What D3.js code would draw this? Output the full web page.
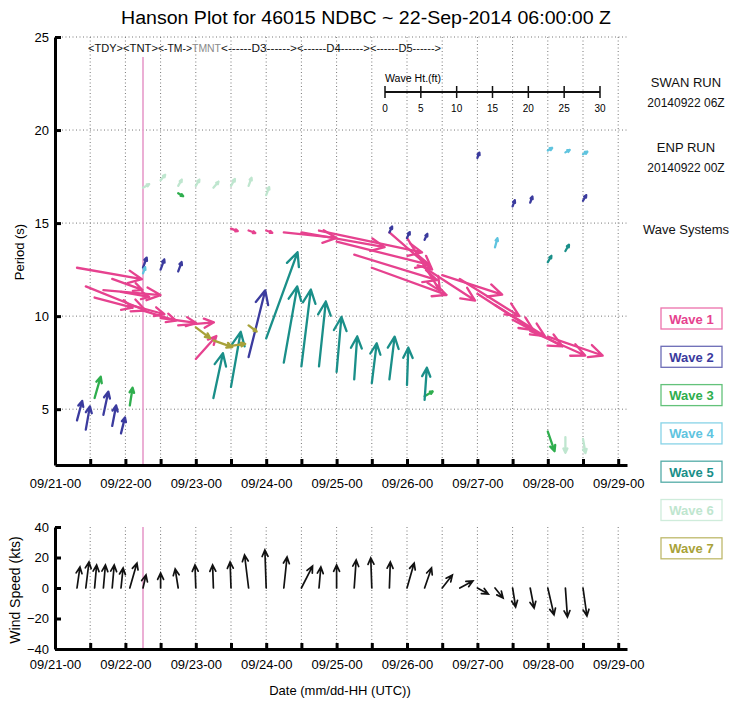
<!DOCTYPE html>
<html>
<head>
<meta charset="utf-8">
<script src="https://cdn.jsdelivr.net/npm/d3@7"></script>
<style>
  body { margin: 0; background: #fff; }
  svg text { font-family: "Liberation Sans", Arial, sans-serif; }
</style>
</head>
<body>
<svg id="chart" width="730" height="702"></svg>
<script>
// hours are counted from 09/21-00Z
// wave rows: [hour, period at tail (s), height (ft), direction toward (deg, 0 = up)]
const WAVE_NAMES = ["Wave 1", "Wave 2", "Wave 3", "Wave 4", "Wave 5", "Wave 6", "Wave 7"];
const WAVE_COLORS = ["#e6428f", "#3b3b9e", "#2fae4e", "#5fc4df", "#1a8f89", "#bfe6cf", "#a8a23a"];

const WAVE1 = [
  [7.5, 12.6, 9.2, 100], [10.5, 11.6, 9.0, 112], [13.5, 11.0, 5.5, 105], [16.5, 11.4, 8.0, 95],
  [19.5, 12.0, 4.5, 110], [22.5, 11.3, 4.0, 100], [25.5, 10.6, 5.0, 105], [30, 10.3, 4.8, 107],
  [36, 9.9, 5.0, 98], [42, 9.5, 5.0, 85], [48, 7.7, 4.3, 42],
  [60, 14.7, 1.0, 110], [66, 14.6, 1.0, 110], [72, 14.6, 0.9, 110],
  [78, 14.5, 7.4, 96], [84, 14.5, 11.8, 100], [90, 14.6, 14.7, 102], [96, 14.0, 13.4, 104],
  [102, 13.3, 12.1, 107], [108, 12.6, 11.1, 110], [114, 14.5, 7.9, 131], [120, 14.2, 8.7, 148],
  [126, 12.6, 8.4, 123], [132, 12.2, 8.8, 108], [138, 12.0, 9.8, 122], [144, 11.2, 9.3, 123],
  [150, 10.6, 8.2, 122], [156, 9.8, 7.9, 118], [162, 9.2, 8.4, 114], [168, 8.9, 8.1, 109]
];
const WAVE2 = [
  [7.5, 4.4, 2.8, 15], [10.5, 3.9, 3.3, 10], [16.5, 4.7, 3.3, 12], [19.5, 4.1, 2.9, 11],
  [22.5, 3.7, 2.3, 14], [30, 12.6, 1.5, 20], [36, 12.5, 1.5, 20], [42, 12.4, 1.4, 20],
  [66, 7.8, 9.6, 14], [114, 14.5, 0.9, 25], [120, 14.2, 0.9, 25], [126, 14.1, 0.9, 25],
  [144, 18.5, 0.8, 20], [156, 15.9, 0.9, 20], [162, 16.1, 0.9, 20], [180, 16.2, 0.9, 30]
];
const WAVE3 = [
  [13.5, 5.6, 3.1, 16], [25.5, 5.2, 2.5, 9], [42, 16.6, 0.8, 120], [126, 5.7, 1.3, 60],
  [168, 3.8, 2.9, 161]
];
const WAVE4 = [
  [30, 12.3, 0.9, 20], [150, 13.7, 1.3, 15], [168, 18.9, 0.7, 60], [174, 18.8, 0.7, 60],
  [180, 18.7, 0.7, 60]
];
const WAVE5 = [
  [54, 5.6, 6.4, 12], [60, 6.2, 7.8, 10], [72, 8.8, 12.8, 20], [78, 7.5, 10.8, 10],
  [84, 7.3, 10.8, 7], [90, 7.3, 9.1, 6], [96, 7.0, 7.7, 5], [102, 6.6, 6.0, 4],
  [108, 6.4, 5.6, 7], [114, 6.6, 6.0, 7], [120, 6.3, 5.2, 2], [126, 5.5, 4.5, 4],
  [168, 12.9, 1.0, 30], [174, 13.5, 1.0, 30]
];
const WAVE6 = [
  [30, 16.9, 1.0, 60], [36, 17.3, 1.0, 40], [42, 17.0, 1.0, 30], [48, 17.0, 1.0, 30],
  [54, 16.9, 1.1, 40], [60, 17.0, 1.1, 30], [66, 17.0, 1.2, 20], [72, 16.5, 1.2, 20],
  [174, 3.5, 2.2, 180], [180, 3.4, 2.0, 170]
];
const WAVE7 = [
  [48, 9.4, 2.5, 127], [54, 8.7, 2.8, 110], [60, 8.4, 2.0, 82], [66, 9.5, 1.4, 127]
];
const WAVES = [WAVE1, WAVE2, WAVE3, WAVE4, WAVE5, WAVE6, WAVE7];

// wind rows: [hour, speed (kts), direction toward (deg)]
const WIND = [
  [7.5, 13.9, 8], [10.5, 17.2, 7], [13.5, 15.1, 5], [16.5, 15.1, 5], [19.5, 15.1, 5],
  [22.5, 13.2, 6], [25.5, 17.0, 16], [30, 8.7, 13], [36, 9.8, 0], [42, 12.6, 351],
  [48, 15.1, 358], [54, 15.1, 358], [60, 17.1, 358], [66, 21.8, 353], [72, 24.9, 358],
  [78, 20.4, 6], [84, 16.1, 27], [90, 13.8, 5], [96, 15.1, 0], [102, 18.4, 4],
  [108, 19.7, 358], [114, 17.1, 2], [120, 17.0, 16], [126, 13.9, 19], [132, 10.8, 38],
  [138, 9.7, 62], [144, 8.2, 119], [150, 8.4, 141], [156, 12.6, 171], [162, 13.4, 169],
  [168, 18.1, 167], [174, 19.1, 176], [180, 18.5, 172]
];

const DAY_LABELS = ["09/21-00", "09/22-00", "09/23-00", "09/24-00", "09/25-00",
                    "09/26-00", "09/27-00", "09/28-00", "09/29-00"];
const PERIOD_TICKS = [5, 10, 15, 20, 25];
const WIND_TICKS = [-40, -20, 0, 20, 40];
const HT_TICKS = [0, 5, 10, 15, 20, 25, 30];
const RUN_HOUR = 30;
const FCST_LABELS = ["<TDY>", "<TNT>", "<-TM->", "TMNT", "<------D3------>", "<------D4------>", "<------D5------>"];
const FCST_WIDTHS = [35, 35, 34, 29, 76, 73, 71];

function drawChart() {
  const svg = d3.select("#chart");
  const hours12 = d3.range(0, 193, 12);

  const x = d3.scaleLinear().domain([0, 195]).range([55, 627]);
  const yP = d3.scaleLinear().domain([2, 25]).range([465, 37]);
  const yW = d3.scaleLinear().domain([-40, 40]).range([649, 527]);
  const ht = d3.scaleLinear().domain([0, 30]).range([385, 600]);

  function arrowPath(x0, y0, x1, y1, head) {
    const a = Math.atan2(y1 - y0, x1 - x0), b = 25 * Math.PI / 180;
    return "M" + x0 + "," + y0 + "L" + x1 + "," + y1 +
      "M" + (x1 - head * Math.cos(a - b)) + "," + (y1 - head * Math.sin(a - b)) +
      "L" + x1 + "," + y1 +
      "L" + (x1 - head * Math.cos(a + b)) + "," + (y1 - head * Math.sin(a + b));
  }

  // title
  svg.append("text")
    .attr("x", 366).attr("y", 24)
    .attr("text-anchor", "middle")
    .attr("font-size", 18)
    .attr("textLength", 490).attr("lengthAdjust", "spacingAndGlyphs")
    .text("Hanson Plot for 46015 NDBC ~ 22-Sep-2014 06:00:00 Z");

  // dotted grid, top panel
  const grid = svg.append("g")
    .attr("stroke", "#777").attr("stroke-width", 1).attr("stroke-dasharray", "1,2.5");
  grid.selectAll(".vt").data(hours12.slice(1)).enter().append("line")
    .attr("x1", d => x(d)).attr("x2", d => x(d))
    .attr("y1", yP(25)).attr("y2", yP(2));
  grid.selectAll(".hz").data(PERIOD_TICKS).enter().append("line")
    .attr("x1", x(0)).attr("x2", x(195))
    .attr("y1", d => yP(d)).attr("y2", d => yP(d));
  // dotted grid, wind panel
  grid.selectAll(".vb").data(hours12.slice(1)).enter().append("line")
    .attr("x1", d => x(d)).attr("x2", d => x(d))
    .attr("y1", yW(40)).attr("y2", yW(-40));

  // run time line
  svg.append("line")
    .attr("x1", x(RUN_HOUR)).attr("x2", x(RUN_HOUR))
    .attr("y1", 57).attr("y2", yP(2))
    .attr("stroke", "#e79bcb").attr("stroke-width", 1.6);
  svg.append("line")
    .attr("x1", x(RUN_HOUR)).attr("x2", x(RUN_HOUR))
    .attr("y1", yW(40)).attr("y2", yW(-40))
    .attr("stroke", "#e79bcb").attr("stroke-width", 1.6);

  // forecast period labels
  let lx = 88;
  FCST_LABELS.forEach(function(lab, i) {
    svg.append("text")
      .attr("x", lx).attr("y", 52)
      .attr("font-size", 11)
      .attr("fill", lab == "TMNT" ? "#8a8a8a" : "#111")
      .attr("textLength", FCST_WIDTHS[i]).attr("lengthAdjust", "spacingAndGlyphs")
      .text(lab);
    lx += FCST_WIDTHS[i];
  });

  // wave height scale
  svg.append("text").attr("x", 385).attr("y", 82).attr("font-size", 10)
    .attr("textLength", 56).attr("lengthAdjust", "spacingAndGlyphs")
    .text("Wave Ht.(ft)");
  svg.append("line").attr("x1", ht(0)).attr("x2", ht(30)).attr("y1", 92).attr("y2", 92)
    .attr("stroke", "#111").attr("stroke-width", 1.8);
  svg.selectAll(".htick").data(HT_TICKS).enter().append("line")
    .attr("x1", d => ht(d)).attr("x2", d => ht(d)).attr("y1", 86).attr("y2", 98)
    .attr("stroke", "#111").attr("stroke-width", 1.5);
  svg.selectAll(".hlab").data(HT_TICKS).enter().append("text")
    .attr("x", d => ht(d)).attr("y", 112).attr("text-anchor", "middle")
    .attr("font-size", 10).text(d => d);

  // wave arrows
  const unit = ht(1) - ht(0);
  WAVES.forEach(function(rows, i) {
    svg.append("g")
      .attr("fill", "none").attr("stroke", WAVE_COLORS[i])
      .attr("stroke-width", 2.3).attr("stroke-linecap", "round").attr("stroke-linejoin", "round")
      .selectAll("path").data(rows).enter().append("path")
      .attr("d", function(d) {
        const x0 = x(d[0]), y0 = yP(d[1]), L = d[2] * unit, r = d[3] * Math.PI / 180;
        const head = Math.max(2.5, Math.min(15, L * 0.3));
        return arrowPath(x0, y0, x0 + L * Math.sin(r), y0 - L * Math.cos(r), head);
      });
  });

  // wind arrows
  const k = yW(0) - yW(1);
  svg.append("g")
    .attr("fill", "none").attr("stroke", "#111").attr("stroke-width", 1.7)
    .attr("stroke-linecap", "round")
    .selectAll("path").data(WIND).enter().append("path")
    .attr("d", function(d) {
      const x0 = x(d[0]), y0 = yW(0), r = d[2] * Math.PI / 180;
      return arrowPath(x0, y0, x0 + d[1] * k * Math.sin(r), y0 - d[1] * k * Math.cos(r), 7);
    });

  // axes
  function styleAxis(g) {
    g.select(".domain").attr("stroke", "#000").attr("stroke-width", 3);
    g.selectAll(".tick line").attr("stroke", "#000").attr("stroke-width", 3);
    g.selectAll(".tick text").attr("font-size", 13).attr("fill", "#000")
      .attr("font-family", "'Liberation Sans', Arial, sans-serif");
  }
  const dayFmt = d => (d % 24 == 0 ? DAY_LABELS[d / 24] : "");

  svg.append("g").attr("transform", "translate(0," + yP(2) + ")")
    .call(d3.axisBottom(x).tickValues(hours12).tickFormat(dayFmt)
      .tickSize(-6).tickSizeOuter(0).tickPadding(14))
    .call(styleAxis);
  svg.append("g").attr("transform", "translate(" + x(0) + ",0)")
    .call(d3.axisLeft(yP).tickValues(PERIOD_TICKS)
      .tickSize(-6).tickSizeOuter(0).tickPadding(6))
    .call(styleAxis);

  svg.append("g").attr("transform", "translate(0," + yW(-40) + ")")
    .call(d3.axisBottom(x).tickValues(hours12).tickFormat(dayFmt)
      .tickSize(-6).tickSizeOuter(0).tickPadding(11))
    .call(styleAxis);
  svg.append("g").attr("transform", "translate(" + x(0) + ",0)")
    .call(d3.axisLeft(yW).tickValues(WIND_TICKS)
      .tickSize(-6).tickSizeOuter(0).tickPadding(6))
    .call(styleAxis);

  // axis titles
  svg.append("text").attr("transform", "translate(24,252) rotate(-90)")
    .attr("text-anchor", "middle").attr("font-size", 13).text("Period (s)");
  svg.append("text").attr("transform", "translate(20,590) rotate(-90)")
    .attr("text-anchor", "middle").attr("font-size", 14).text("Wind Speed (kts)");
  svg.append("text").attr("x", 340).attr("y", 695)
    .attr("text-anchor", "middle").attr("font-size", 13).text("Date (mm/dd-HH (UTC))");

  // right side notes
  const notes = [["SWAN RUN", 87, 13], ["20140922 06Z", 107, 12], ["ENP RUN", 152, 13],
                 ["20140922 00Z", 172, 12], ["Wave Systems", 234, 13]];
  notes.forEach(function(n) {
    svg.append("text").attr("x", 686).attr("y", n[1]).attr("text-anchor", "middle")
      .attr("font-size", n[2]).attr("fill", "#111").text(n[0]);
  });

  // legend boxes
  const leg = svg.selectAll(".leg").data(WAVE_NAMES).enter().append("g")
    .attr("transform", (d, i) => "translate(661," + (308 + i * 38.3) + ")");
  leg.append("rect").attr("width", 61).attr("height", 21)
    .attr("fill", "#fff")
    .attr("stroke", (d, i) => WAVE_COLORS[i]).attr("stroke-opacity", 0.75).attr("stroke-width", 1.3);
  leg.append("text").attr("x", 30.5).attr("y", 15.5).attr("text-anchor", "middle")
    .attr("font-size", 13).attr("font-weight", "bold")
    .attr("fill", (d, i) => WAVE_COLORS[i]).text(d => d);
}

drawChart();
</script>
</body>
</html>
